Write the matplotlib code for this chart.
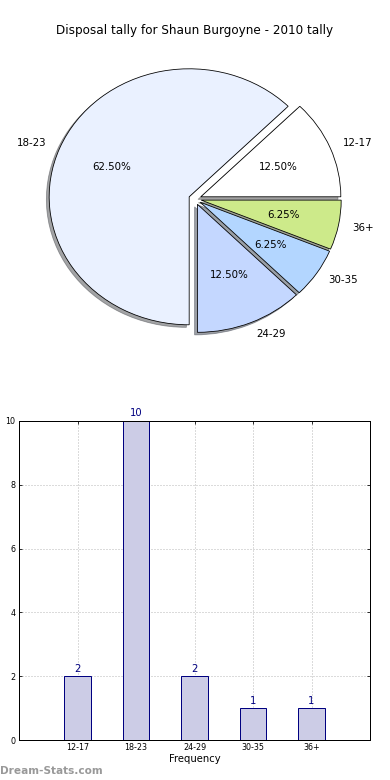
import numpy as np
import matplotlib.pyplot as plt

# Disposal tally buckets
age_groups = ['12-17', '18-23', '24-29', '30-35', '36+']
tally = [2, 10, 2, 1, 1]
pie_colours = ['#ffffff', '#eaf1ff', '#c4d7ff', '#b3d6ff', '#cdea8a']

fig = plt.figure(figsize=(390 / 72, 780 / 72), dpi=72)

# Pie chart (top)
ax1 = fig.add_axes([20 / 390, 1 - 359 / 780, 350 / 390, 320 / 780])
ax1.pie(tally, labels=age_groups, colors=pie_colours, autopct='%1.2f%%',
        explode=[0.045] * len(tally), shadow=True, startangle=0,
        wedgeprops={'linewidth': 0.8, 'edgecolor': 'black'},
        textprops={'fontsize': 10.3})
ax1.set_aspect('auto')
ax1.set_xlim(-1.25, 1.25)
ax1.set_ylim(-1.25, 1.25)
ax1.set_title('Disposal tally for Shaun Burgoyne - 2010 tally', fontsize=12, pad=5)

# Bar chart (bottom)
ax2 = fig.add_axes([19 / 390, 40 / 780, 351 / 390, 319 / 780])
x = np.arange(len(age_groups))
ax2.bar(x, tally, width=0.45, color='#cccce6', edgecolor='#000080', linewidth=1, zorder=2)
for xi, v in zip(x, tally):
    ax2.text(xi, v + 0.08, str(v), ha='center', va='bottom', color='#000080', fontsize=10)
ax2.set_xlim(-1, 5)
ax2.set_ylim(0, 10)
ax2.set_xticks(x)
ax2.set_xticklabels(age_groups)
ax2.set_yticks(range(0, 11, 2))
ax2.tick_params(direction='in', top=True, right=True, labelsize=8, length=3)
ax2.grid(True, linestyle=(0, (1, 2)), color='#b8b8b8', linewidth=1, zorder=0)
ax2.set_axisbelow(True)
ax2.set_xlabel('Frequency', fontsize=10, labelpad=2)
ax2.set_ylabel('Disposal Tally', fontsize=8, labelpad=8)
for s in ax2.spines.values():
    s.set_linewidth(1)

fig.text(0.0, 1 - 771 / 780, 'Dream-Stats.com', fontsize=10.5, color='#999999',
         fontweight='bold', va='center', ha='left')

fig.savefig('out.png', dpi=72)
